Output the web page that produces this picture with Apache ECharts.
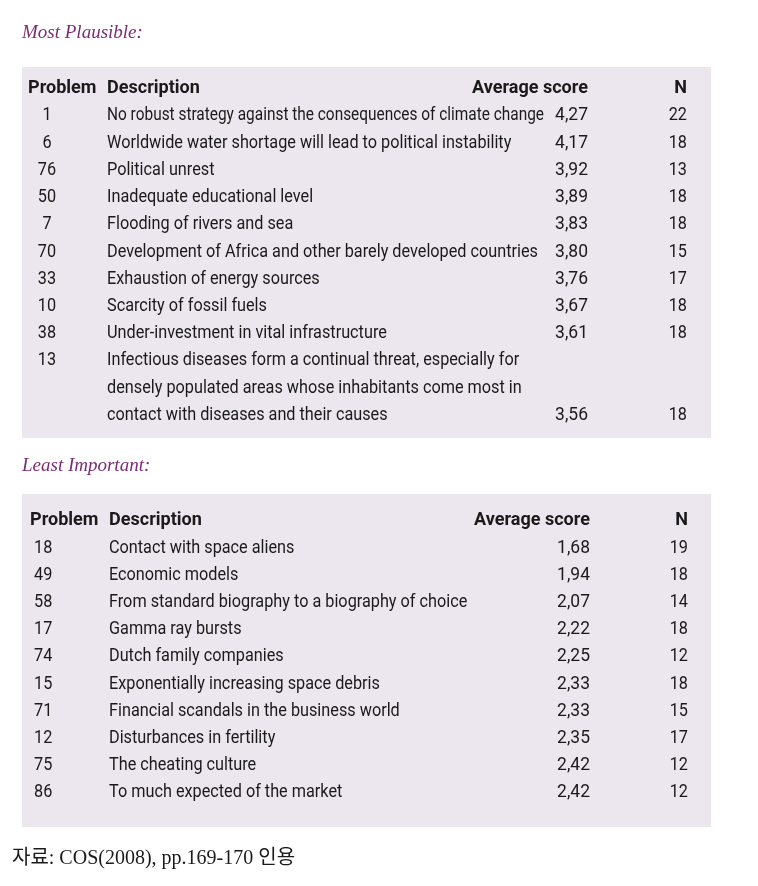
<!DOCTYPE html>
<html>
<head>
<meta charset="utf-8">
<script src="https://cdn.jsdelivr.net/npm/echarts@6/dist/echarts.min.js"></script>
<style>
html,body{margin:0;padding:0;background:#fff;}
#chart{width:758px;height:886px;}
</style>
</head>
<body>
<div id="chart"></div>
<script>
// ---- data ----
const sectionTitles = ['Most Plausible:', 'Least Important:'];
const headers = ['Problem', 'Description', 'Average score', 'N'];

const problems1 = ['1', '6', '76', '50', '7', '70', '33', '10', '38', '13'];
const descriptions1 = [
  'No robust strategy against the consequences of climate change',
  'Worldwide water shortage will lead to political instability',
  'Political unrest',
  'Inadequate educational level',
  'Flooding of rivers and sea',
  'Development of Africa and other barely developed countries',
  'Exhaustion of energy sources',
  'Scarcity of fossil fuels',
  'Under-investment in vital infrastructure',
  'Infectious diseases form a continual threat, especially for\ndensely populated areas whose inhabitants come most in\ncontact with diseases and their causes'
];
const scores1 = [4.27, 4.17, 3.92, 3.89, 3.83, 3.80, 3.76, 3.67, 3.61, 3.56];
const n1 = [22, 18, 13, 18, 18, 15, 17, 18, 18, 18];

const problems2 = ['18', '49', '58', '17', '74', '15', '71', '12', '75', '86'];
const descriptions2 = [
  'Contact with space aliens',
  'Economic models',
  'From standard biography to a biography of choice',
  'Gamma ray bursts',
  'Dutch family companies',
  'Exponentially increasing space debris',
  'Financial scandals in the business world',
  'Disturbances in fertility',
  'The cheating culture',
  'To much expected of the market'
];
const scores2 = [1.68, 1.94, 2.07, 2.22, 2.25, 2.33, 2.33, 2.35, 2.42, 2.42];
const n2 = [19, 18, 14, 18, 12, 18, 15, 17, 12, 12];

const sourceNote = '자료: COS(2008), pp.169-170 인용';

// ---- layout / style ----
const FONT = '"Roboto", "Liberation Sans", sans-serif';
const FS = 19;
const SCALE_NORMAL = 0.855;
const SCALE_NUM = 0.92;
const SCALE_BOLD = 0.95;
const TXT = '#1a1a1a';
const BG = '#ece6ef';
const TITLE_COLOR = '#7d2b74';

const tables = [
  { problems: problems1, descriptions: descriptions1, scores: scores1, ns: n1,
    grid: { left: 22, top: 67, width: 689, height: 371 }, yMin: -0.79, yMax: 12.845,
    cols: { probHead: 28, prob: 47, probAlign: 'center', desc: 107, descMax: 544, score: 588, n: 687 } },
  { problems: problems2, descriptions: descriptions2, scores: scores2, ns: n2,
    grid: { left: 22, top: 494, width: 689, height: 333 }, yMin: -0.98, yMax: 11.26,
    cols: { probHead: 30, prob: 34, probAlign: 'left', desc: 109, descMax: 546, score: 590, n: 688 } }
];

function fmt(v) { return v.toFixed(2).replace('.', ','); }

const measureCtx = document.createElement('canvas').getContext('2d');
function textWidth(text, bold) {
  measureCtx.font = (bold ? 'bold ' : '') + FS + 'px ' + FONT;
  return measureCtx.measureText(text).width;
}

function buildRows(t) {
  const rows = [];
  let r = 1;
  t.problems.forEach((p, i) => {
    const lines = t.descriptions[i].split('\n');
    rows.push({ value: [i, r, lines.length] });
    r += lines.length;
  });
  return rows;
}

function textEl(x, y, text, align, bold, scale) {
  return {
    type: 'text',
    x: x, y: y,
    scaleX: scale,
    style: {
      text: text, x: 0, y: 0,
      fill: TXT,
      font: (bold ? 'bold ' : '') + FS + 'px ' + FONT,
      textAlign: align, textVerticalAlign: 'middle'
    }
  };
}

const grids = [], xAxes = [], yAxes = [], series = [];
tables.forEach((t, ti) => {
  grids.push(Object.assign({ show: true, backgroundColor: BG, borderWidth: 0 }, t.grid));
  xAxes.push({ type: 'value', gridIndex: ti, min: t.grid.left, max: t.grid.left + t.grid.width, show: false });
  yAxes.push({ type: 'value', gridIndex: ti, min: t.yMin, max: t.yMax, inverse: true, show: false });
  const c = t.cols;
  // header
  series.push({
    type: 'custom', xAxisIndex: ti, yAxisIndex: ti, silent: true,
    data: [[0, 0]],
    renderItem: function (params, api) {
      const row = api.value(1);
      const y = api.coord([0, row])[1];
      return { type: 'group', children: [
        textEl(api.coord([c.probHead, row])[0], y, headers[0], 'left', true, SCALE_BOLD),
        textEl(api.coord([c.desc, row])[0], y, headers[1], 'left', true, SCALE_BOLD),
        textEl(api.coord([c.score, row])[0], y, headers[2], 'right', true, SCALE_BOLD),
        textEl(api.coord([c.n, row])[0], y, headers[3], 'right', true, SCALE_BOLD)
      ]};
    }
  });
  // body rows
  series.push({
    type: 'custom', xAxisIndex: ti, yAxisIndex: ti, silent: true,
    data: buildRows(t),
    renderItem: function (params, api) {
      const i = api.value(0), row = api.value(1), nl = api.value(2);
      const lines = t.descriptions[i].split('\n');
      const children = [];
      children.push(textEl(api.coord([c.prob, row])[0], api.coord([0, row])[1], t.problems[i], c.probAlign, false, SCALE_NORMAL));
      const x0 = api.coord([c.desc, row])[0];
      const avail = api.coord([c.descMax, row])[0] - x0;
      lines.forEach((ln, k) => {
        const w = textWidth(ln, false) * SCALE_NORMAL;
        const s = w > avail ? SCALE_NORMAL * avail / w : SCALE_NORMAL;
        children.push(textEl(x0, api.coord([0, row + k])[1], ln, 'left', false, s));
      });
      const lastRow = row + nl - 1;
      const ly = api.coord([0, lastRow])[1];
      children.push(textEl(api.coord([c.score, lastRow])[0], ly, fmt(t.scores[i]), 'right', false, SCALE_NUM));
      children.push(textEl(api.coord([c.n, lastRow])[0], ly, String(t.ns[i]), 'right', false, SCALE_NORMAL));
      return { type: 'group', children: children };
    }
  });
});

const chart = echarts.init(document.getElementById('chart'), null, { renderer: 'canvas' });
chart.setOption({
  backgroundColor: '#ffffff',
  animation: false,
  grid: grids,
  xAxis: xAxes,
  yAxis: yAxes,
  series: series,
  graphic: [
    { type: 'text', left: 22, top: 23, style: { text: sectionTitles[0], fill: TITLE_COLOR, font: 'italic 19px "Liberation Serif", "DejaVu Serif", serif' } },
    { type: 'text', left: 22, top: 456, style: { text: sectionTitles[1], fill: TITLE_COLOR, font: 'italic 19px "Liberation Serif", "DejaVu Serif", serif' } },
    { type: 'text', left: 12, top: 849, style: { text: sourceNote, fill: TXT, font: '20px "Liberation Serif", "Noto Sans CJK KR", serif' } }
  ]
});
</script>
</body>
</html>
